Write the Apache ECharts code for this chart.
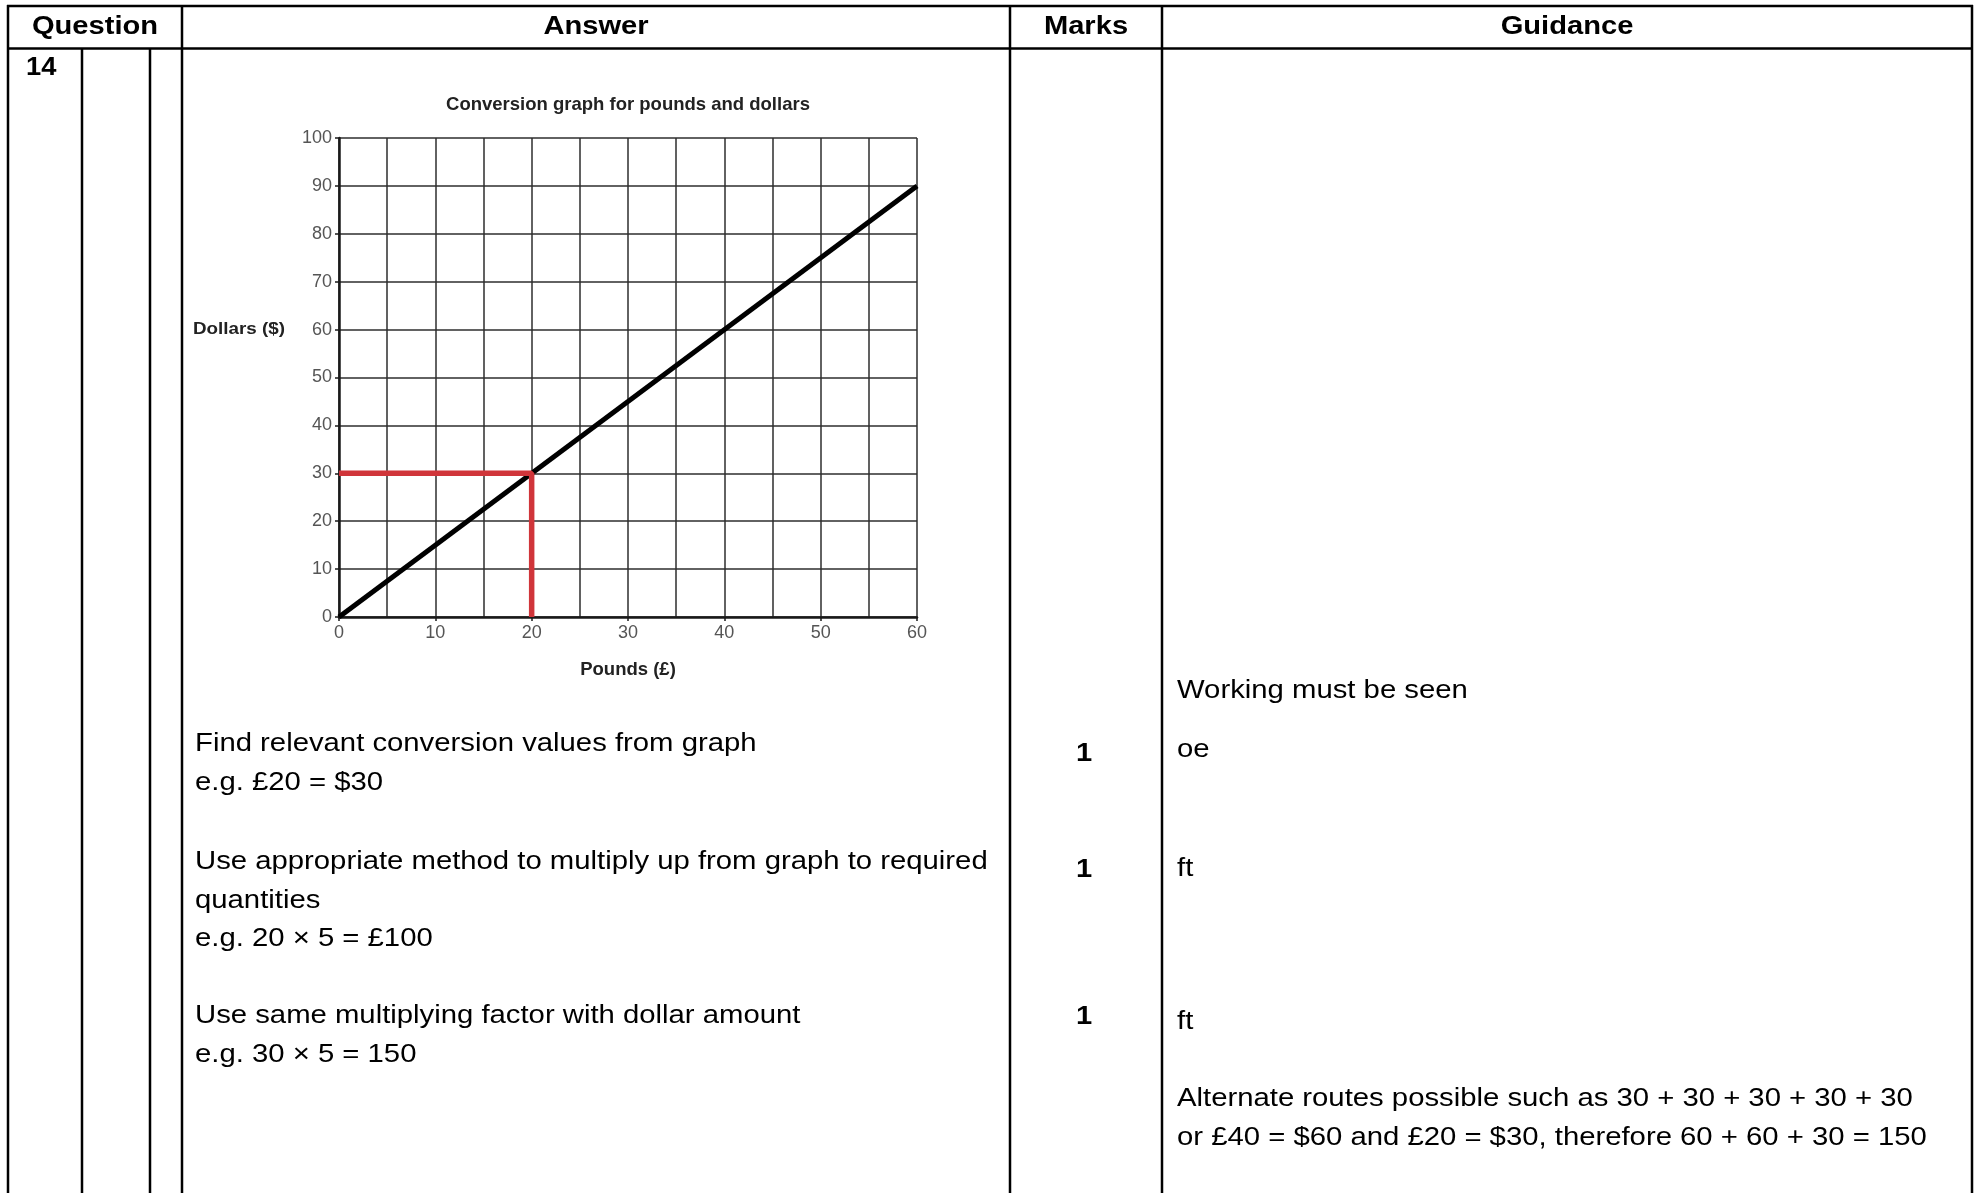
<!DOCTYPE html>
<html>
<head>
<meta charset="utf-8">
<script src="https://cdn.jsdelivr.net/npm/echarts@6/dist/echarts.min.js"></script>
<style>
html,body{margin:0;padding:0;background:#fff;}
#main{width:1982px;height:1193px;}
</style>
</head>
<body>
<div id="main"></div>
<script>
// ---- data ----
var chartTitle = 'Conversion graph for pounds and dollars';
var xAxisName = 'Pounds (£)';
var yAxisName = 'Dollars ($)';
var conversionLine = [[0, 0], [60, 90]];
var readingLine = [[0, 30], [20, 30], [20, 0]];
var xTicks = [0, 10, 20, 30, 40, 50, 60];
var yTicks = [0, 10, 20, 30, 40, 50, 60, 70, 80, 90, 100];

var headers = ['Question', 'Answer', 'Marks', 'Guidance'];
var questionNumber = '14';
var answerLines = [
  'Find relevant conversion values from graph',
  'e.g. £20 = $30',
  'Use appropriate method to multiply up from graph to required',
  'quantities',
  'e.g. 20 × 5 = £100',
  'Use same multiplying factor with dollar amount',
  'e.g. 30 × 5 = 150'
];
var marks = ['1', '1', '1'];
var guidanceLines = [
  'Working must be seen',
  'oe',
  'ft',
  'ft',
  'Alternate routes possible such as 30 + 30 + 30 + 30 + 30',
  'or £40 = $60 and £20 = $30, therefore 60 + 60 + 30 = 150'
];

// ---- layout ----
var FONT = '"Liberation Sans", Arial, sans-serif';
var SX = 1.12;
var BODY_SX = 1.105;
var answerY = [744, 783, 862, 901, 939, 1016, 1055];
var marksY = [754, 870, 1017];
var guidanceY = [691, 750, 869, 1022, 1099, 1138];

var chart = echarts.init(document.getElementById('main'), null, {renderer: 'canvas'});

var g = [];
function line(x1, y1, x2, y2, w) {
  g.push({type: 'line', shape: {x1: x1, y1: y1, x2: x2, y2: y2}, style: {stroke: '#000', lineWidth: w}, silent: true});
}
function text(t, x, y, size, weight, align, color, sx) {
  g.push({type: 'text', x: x, y: y, scaleX: sx || SX, silent: true, style: {text: t, fill: color || '#000', font: (weight || 'normal') + ' ' + size + 'px ' + FONT, textAlign: align || 'left', textVerticalAlign: 'middle'}});
}
// table lines
line(7, 6, 1973, 6, 2.5);
line(7, 48.5, 1973, 48.5, 2.5);
line(8, 5, 8, 1193, 2.5);
line(182, 5, 182, 1193, 2.5);
line(1010, 5, 1010, 1193, 2.5);
line(1162, 5, 1162, 1193, 2.5);
line(1972, 5, 1972, 1193, 2.5);
line(82, 48, 82, 1193, 2.5);
line(150, 48, 150, 1193, 2.5);
// headers
var hx = [95, 596, 1086, 1567];
headers.forEach(function (h, i) { text(h, hx[i], 27, 26, 'bold', 'center'); });
text(questionNumber, 26, 68, 26, 'bold', 'left', '#000', 1.05);
answerLines.forEach(function (t, i) { text(t, 195, answerY[i], 26.5, 'normal', 'left', '#000', BODY_SX); });
marks.forEach(function (t, i) { text(t, 1084, marksY[i], 26, 'bold', 'center'); });
guidanceLines.forEach(function (t, i) { text(t, 1177, guidanceY[i], 26.5, 'normal', 'left', '#000', BODY_SX); });
// y axis name
text(yAxisName, 239, 329, 16.5, 'bold', 'center', '#222', 1.14);

var gridColor = '#2e2e2e';
var option = {
  animation: false,
  backgroundColor: '#fff',
  title: {
    text: chartTitle, left: 623, top: 90, textAlign: 'center',
    textStyle: {fontFamily: FONT, fontSize: 18.5, fontWeight: 'bold', color: '#222'}
  },
  grid: {left: 339, top: 138, width: 578, height: 479, containLabel: false},
  xAxis: {
    type: 'value', min: xTicks[0], max: xTicks[xTicks.length - 1], interval: 10,
    name: xAxisName, nameLocation: 'middle', nameGap: 43,
    nameTextStyle: {fontFamily: FONT, fontSize: 18.5, fontWeight: 'bold', color: '#222'},
    axisLine: {show: true, onZero: false, lineStyle: {color: '#1a1a1a', width: 2.5}},
    axisTick: {show: true, length: 4, lineStyle: {color: '#1a1a1a', width: 1.5}},
    axisLabel: {fontFamily: FONT, fontSize: 18, color: '#555', margin: 7},
    splitLine: {show: true, lineStyle: {color: gridColor, width: 1.5}},
    minorTick: {show: false, splitNumber: 2},
    minorSplitLine: {show: true, lineStyle: {color: gridColor, width: 1.5}}
  },
  yAxis: {
    type: 'value', min: yTicks[0], max: yTicks[yTicks.length - 1], interval: 10,
    axisLine: {show: true, onZero: false, lineStyle: {color: '#1a1a1a', width: 2.5}},
    axisTick: {show: true, length: 4, lineStyle: {color: '#1a1a1a', width: 1.5}},
    axisLabel: {fontFamily: FONT, fontSize: 18, color: '#555', margin: 7},
    splitLine: {show: true, lineStyle: {color: gridColor, width: 1.5}}
  },
  series: [
    {type: 'line', data: conversionLine, symbol: 'none', lineStyle: {color: '#000', width: 5}, z: 3},
    {type: 'line', data: readingLine, symbol: 'none', lineStyle: {color: '#d0353a', width: 5.5}, z: 4}
  ],
  graphic: g
};
chart.setOption(option);
</script>
</body>
</html>
